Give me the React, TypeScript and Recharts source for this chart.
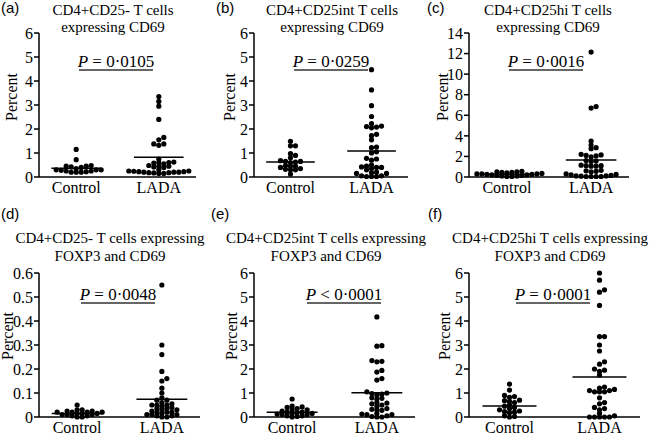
import { ScatterChart, Scatter, XAxis, YAxis, ReferenceLine } from 'recharts'

// values (percent of cells)
const groups = ['Control', 'LADA']

const controlA = [1.15, 0.72, 0.48, 0.45, 0.45, 0.42, 0.4, 0.35, 0.3, 0.3, 0.3, 0.28, 0.25, 0.25, 0.22, 0.2, 0.2, 0.2]
const ladaA = [3.35, 3.15, 2.95, 2.4, 1.65, 1.55, 1.38, 1.38, 1.32, 0.75, 0.62, 0.6, 0.6, 0.58, 0.55, 0.48, 0.45, 0.45, 0.42, 0.4, 0.3, 0.25, 0.25, 0.24, 0.22, 0.22, 0.2, 0.2, 0.2, 0.18, 0.18, 0.17, 0.15, 0.15]
const meansA = [0.36, 0.82]

const controlB = [1.49, 1.3, 1.3, 0.97, 0.9, 0.8, 0.68, 0.65, 0.65, 0.62, 0.6, 0.48, 0.45, 0.45, 0.4, 0.35, 0.32, 0.3, 0.3, 0.12]
const ladaB = [4.47, 3.63, 2.97, 2.52, 2.22, 2.12, 2.1, 2.08, 2.05, 1.78, 1.72, 1.55, 1.25, 1.22, 1.05, 1.0, 0.78, 0.75, 0.7, 0.5, 0.45, 0.42, 0.4, 0.4, 0.35, 0.3, 0.2, 0.18, 0.15, 0.15, 0.05, 0.05, 0.02, 0.02, 0.02]
const meansB = [0.62, 1.08]

const controlC = [0.55, 0.5, 0.5, 0.45, 0.45, 0.4, 0.35, 0.3, 0.3, 0.3, 0.25, 0.25, 0.2, 0.2, 0.15, 0.15, 0.1, 0.1, 0.05, 0.05]
const ladaC = [12.15, 6.85, 6.7, 3.5, 3.1, 2.85, 2.75, 2.2, 2.15, 2.1, 2.05, 1.95, 1.6, 1.55, 1.5, 1.15, 1.1, 1.1, 1.05, 1.05, 0.65, 0.6, 0.55, 0.5, 0.3, 0.25, 0.2, 0.15, 0.1, 0.1, 0.08, 0.05, 0.05, 0.05, 0.05]
const meansC = [0.26, 1.66]

const controlD = [0.05, 0.03, 0.03, 0.025, 0.025, 0.02, 0.02, 0.02, 0.02, 0.015, 0.015, 0.015, 0.01, 0.01, 0.01, 0.005, 0.005, 0, 0]
const ladaD = [0.55, 0.3, 0.26, 0.19, 0.16, 0.15, 0.12, 0.1, 0.08, 0.07, 0.07, 0.06, 0.055, 0.05, 0.05, 0.05, 0.045, 0.04, 0.035, 0.035, 0.03, 0.03, 0.025, 0.02, 0.02, 0.02, 0.015, 0.01, 0.01, 0.01, 0.005, 0.005, 0, 0]
const meansD = [0.015, 0.074]

const controlE = [0.75, 0.45, 0.42, 0.4, 0.35, 0.3, 0.3, 0.25, 0.2, 0.2, 0.18, 0.15, 0.15, 0.12, 0.1, 0.1, 0.05, 0.05, 0.02, 0]
const ladaE = [4.17, 2.97, 2.95, 2.35, 2.32, 2.3, 1.94, 1.87, 1.6, 1.54, 1.05, 1.0, 0.98, 0.95, 0.92, 0.8, 0.78, 0.75, 0.6, 0.58, 0.55, 0.5, 0.45, 0.35, 0.32, 0.3, 0.28, 0.15, 0.12, 0.1, 0.1, 0.05, 0.02, 0, 0]
const meansE = [0.2, 1.01]

const controlF = [1.37, 1.12, 0.9, 0.85, 0.82, 0.7, 0.68, 0.65, 0.6, 0.5, 0.45, 0.4, 0.35, 0.3, 0.25, 0.22, 0.2, 0.18, 0.05, 0.02, 0]
const ladaF = [6.0, 5.7, 5.3, 5.2, 4.65, 3.35, 3.35, 3.0, 2.75, 2.3, 2.2, 2.0, 1.95, 1.9, 1.75, 1.25, 1.2, 1.15, 1.1, 1.1, 1.05, 1.05, 1.05, 0.8, 0.6, 0.55, 0.4, 0.35, 0.3, 0.15, 0.05, 0, 0, 0, 0, 0]
const meansF = [0.46, 1.67]

const ticks6 = [0, 1, 2, 3, 4, 5, 6]
const ticks14 = [0, 2, 4, 6, 8, 10, 12, 14]
const ticksSmall = [0, 0.1, 0.2, 0.3, 0.4, 0.5, 0.6]

const pValues = ['= 0·0105', '= 0·0259', '= 0·0016', '= 0·0048', '< 0·0001', '= 0·0001']

const panels = [
  { tag: '(a)', tagX: 1, title: ['CD4+CD25- T cells', 'expressing CD69'], titleX: 113, control: controlA, lada: ladaA, means: meansA, ticks: ticks6, axisEnd: 196, pX: 116, percentX: 17 },
  { tag: '(b)', tagX: 216, title: ['CD4+CD25int  T cells', 'expressing CD69'], titleX: 332, control: controlB, lada: ladaB, means: meansB, ticks: ticks6, axisEnd: 193, pX: 331, percentX: 235 },
  { tag: '(c)', tagX: 427, title: ['CD4+CD25hi T cells', 'expressing CD69'], titleX: 548, control: controlC, lada: ladaC, means: meansC, ticks: ticks14, axisEnd: 199, pX: 546, percentX: 448 },
  { tag: '(d)', tagX: 1, title: ['CD4+CD25- T cells expressing', 'FOXP3 and CD69'], titleX: 110, control: controlD, lada: ladaD, means: meansD, ticks: ticksSmall, axisEnd: 200, pX: 118, percentX: 13 },
  { tag: '(e)', tagX: 211, title: ['CD4+CD25int T cells expressing', 'FOXP3 and CD69'], titleX: 326, control: controlE, lada: ladaE, means: meansE, ticks: ticks6, axisEnd: 200, pX: 344, percentX: 237 },
  { tag: '(f)', tagX: 428, title: ['CD4+CD25hi T cells expressing', 'FOXP3 and CD69'], titleX: 550, control: controlF, lada: ladaF, means: meansF, ticks: ticks6, axisEnd: 210, pX: 553, percentX: 450 },
]

const rows = [
  { chartTop: 0, tagBase: 13, titleBase: [15, 32], pLine: 70, percentY: 97 },
  { chartTop: 240, tagBase: 219, titleBase: [243, 261], pLine: 303, percentY: 336 },
]

const SERIF = 'Liberation Serif, DejaVu Serif, serif'
const SANS = 'Liberation Sans, Arial, sans-serif'
const PLOT_H = 144
const Y_LEFT = 39
const X_DOMAIN: [number, number] = [-0.45, 1.45]

// simple beeswarm: push each dot sideways until it clears its neighbours
function swarm(values: number[], center: number, yMax: number, plotW: number) {
  const pxPerX = plotW / (X_DOMAIN[1] - X_DOMAIN[0])
  const pxPerY = PLOT_H / yMax
  const placed: { px: number; py: number }[] = []
  const sorted = [...values].sort((a, b) => a - b)
  return sorted.map((v) => {
    const py = v * pxPerY
    let px = 0
    for (let k = 0; k < 60; k++) {
      const cand = k === 0 ? 0 : (k % 2 ? 1 : -1) * Math.ceil(k / 2) * 5
      if (placed.every((p) => Math.abs(p.px - cand) >= 4.9 || Math.abs(p.py - py) >= 3.4)) {
        px = cand
        break
      }
    }
    placed.push({ px, py })
    return { x: center + px / pxPerX, y: v }
  })
}

const dot = (props: any) => <circle cx={props.cx} cy={props.cy} r={2.6} fill="#000" />

function Panel({ p, left, top }: { p: (typeof panels)[number]; left: number; top: number }) {
  const yMax = p.ticks[p.ticks.length - 1]
  const plotW = p.axisEnd - Y_LEFT
  const controlPts = swarm(p.control, 0, yMax, plotW)
  const ladaPts = swarm(p.lada, 1, yMax, plotW)
  return (
    <div style={{ position: 'absolute', left, top }}>
      <ScatterChart width={p.axisEnd + 6} height={210} margin={{ top: 33, right: 6, bottom: 0, left: 0 }}>
        <XAxis
          type="number"
          dataKey="x"
          domain={X_DOMAIN}
          ticks={[0, 1]}
          interval={0}
          tickFormatter={(v) => groups[v]}
          height={33}
          tickLine={false}
          tickSize={0}
          tickMargin={5}
          axisLine={{ stroke: '#000', strokeWidth: 1.5 }}
          tick={{ fill: '#000', fontSize: 16, fontFamily: SERIF }}
        />
        <YAxis
          type="number"
          dataKey="y"
          domain={[0, yMax]}
          ticks={p.ticks}
          interval={0}
          width={Y_LEFT}
          tickSize={5}
          tickMargin={1}
          tickLine={{ stroke: '#000', strokeWidth: 1.5 }}
          axisLine={{ stroke: '#000', strokeWidth: 1.5 }}
          tick={{ fill: '#000', fontSize: 16, fontFamily: SERIF }}
        />
        <Scatter name="Control" data={controlPts} shape={dot} isAnimationActive={false} />
        <Scatter name="LADA" data={ladaPts} shape={dot} isAnimationActive={false} />
        {p.means.map((m, i) => (
          <ReferenceLine
            key={i}
            segment={[{ x: i - 0.3, y: m }, { x: i + 0.3, y: m }]}
            stroke="#000"
            strokeWidth={1.5}
          />
        ))}
      </ScatterChart>
    </div>
  )
}

export default function App() {
  return (
    <div style={{ position: 'absolute', left: 0, top: 0, width: 650, height: 437, background: '#fff' }}>
      {panels.map((p, i) => (
        <Panel key={p.tag} p={p} left={(i % 3) * 215} top={rows[i < 3 ? 0 : 1].chartTop} />
      ))}
      <svg width={650} height={437} style={{ position: 'absolute', left: 0, top: 0, pointerEvents: 'none' }}>
        {panels.map((p, i) => {
          const r = rows[i < 3 ? 0 : 1]
          return (
            <g key={p.tag} fill="#000">
              <text x={p.tagX} y={r.tagBase} fontFamily={SANS} fontSize={15}>
                {p.tag}
              </text>
              {p.title.map((t, j) => (
                <text key={j} x={p.titleX} y={r.titleBase[j]} textAnchor="middle" fontFamily={SERIF} fontSize={15}>
                  {t}
                </text>
              ))}
              <text
                transform={`translate(${p.percentX},${r.percentY}) rotate(-90)`}
                textAnchor="middle"
                fontFamily={SERIF}
                fontSize={16}
              >
                Percent
              </text>
              <text x={p.pX} y={r.pLine - 3} textAnchor="middle" fontFamily={SERIF} fontSize={17}>
                <tspan fontStyle="italic">P</tspan> {pValues[i]}
              </text>
              <line x1={p.pX - 37} x2={p.pX + 37} y1={r.pLine} y2={r.pLine} stroke="#333" strokeWidth={1.3} />
            </g>
          )
        })}
      </svg>
    </div>
  )
}
